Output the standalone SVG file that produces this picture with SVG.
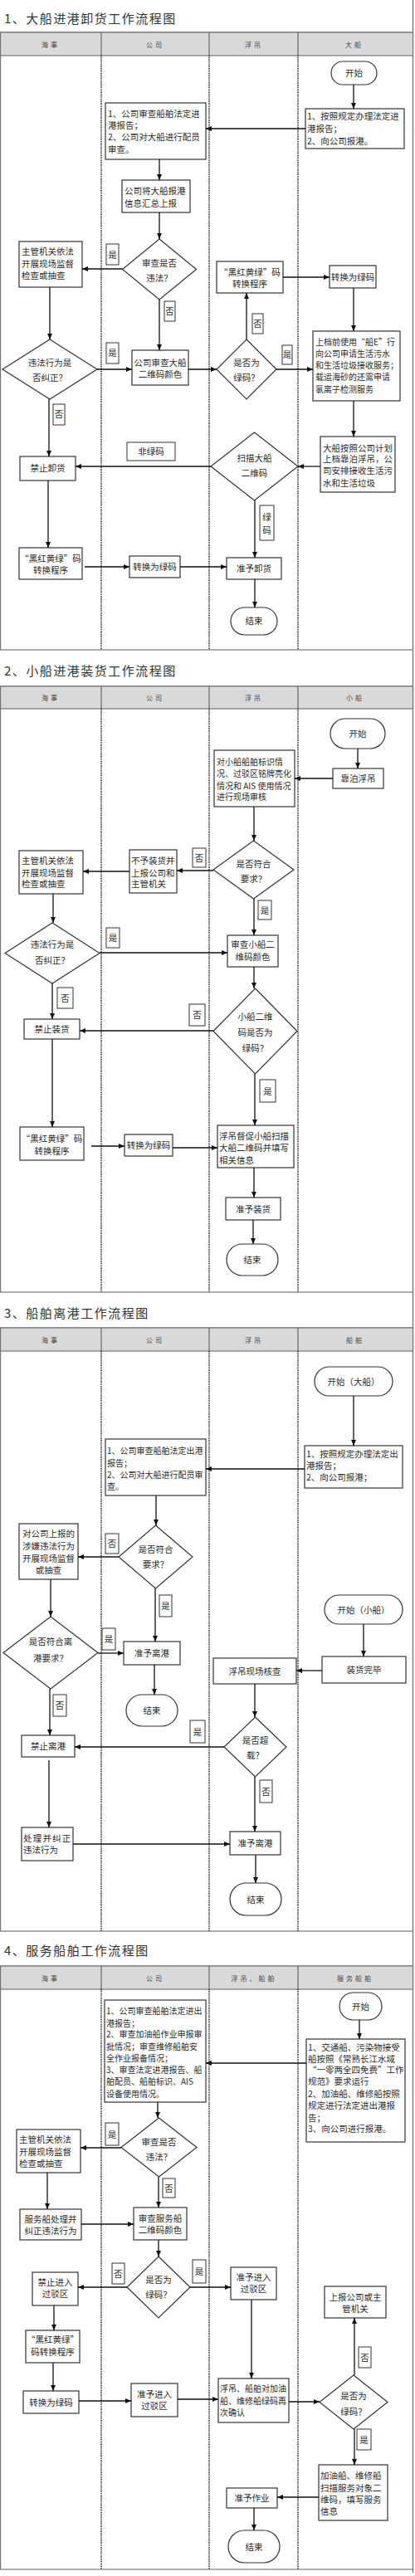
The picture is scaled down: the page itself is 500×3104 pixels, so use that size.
<svg xmlns="http://www.w3.org/2000/svg" width="500" height="3104" viewBox="0 0 500 3104">
<style>
text{font-family:"Noto Sans CJK SC","Noto Sans CJK JP",sans-serif;fill:#2a2a2a;font-size:10.5px}
.m{text-anchor:middle}
.s10{font-size:10px}
.ttl{font-size:15px;letter-spacing:1.5px;fill:#333}
.hd{font-size:8px;letter-spacing:3px;fill:#444;text-anchor:middle}
.hdr{fill:#d9d9d9;stroke:#777;stroke-width:1.2}
.frame{fill:none;stroke:#777;stroke-width:1.2}
.dot{stroke:#222;stroke-width:1.5;stroke-dasharray:1.2 0.9;fill:none}
.sep{stroke:#666;stroke-width:1.2}
.b{fill:#fff;stroke:#333;stroke-width:1.2}
.l{fill:#fff;stroke:#333;stroke-width:1}
.c{stroke:#111;stroke-width:1.3;fill:none;marker-end:url(#a)}
</style>
<defs>
<marker id="a" markerUnits="userSpaceOnUse" markerWidth="7" markerHeight="6" refX="7" refY="3" orient="auto"><path d="M0,0L7,3L0,6z" fill="#111"/></marker>
</defs>
<rect width="500" height="3104" fill="#fff"/>
<line x1="497.5" y1="0" x2="497.5" y2="3100" class="sep"/>

<!-- ========== Section 1 ========== -->
<g id="sec1-frame">
<text x="5" y="28" class="ttl">1、大船进港卸货工作流程图</text>
<rect x="0.6" y="39" width="496.9" height="744" class="frame"/>
<rect x="0.6" y="39" width="496.9" height="28" class="hdr"/>
<line x1="122" y1="39" x2="122" y2="67" class="sep"/><line x1="252" y1="39" x2="252" y2="67" class="sep"/><line x1="359" y1="39" x2="359" y2="67" class="sep"/>
<text x="61" y="57" class="hd">海事</text><text x="187" y="57" class="hd">公司</text><text x="306" y="57" class="hd">浮吊</text><text x="427" y="57" class="hd">大船</text>
<line x1="122" y1="67" x2="122" y2="783" class="dot"/><line x1="252" y1="67" x2="252" y2="783" class="dot"/><line x1="359" y1="67" x2="359" y2="783" class="dot"/>
</g>
<g id="n1-start"><rect x="399" y="74" width="55" height="28" rx="14" class="b"/><text x="426.5" y="92" class="m">开始</text></g>
<g id="n1-report"><rect x="368" y="131" width="119" height="48" class="b"/><text x="370" y="144"><tspan x="370" y="144">1、按照规定办理法定进</tspan><tspan x="370" y="159">港报告；</tspan><tspan x="370" y="174">2、向公司报港。</tspan></text></g>
<g id="n1-company"><rect x="127" y="124" width="121" height="68" class="b"/><text><tspan x="130" y="141">1、公司审查船舶法定进</tspan><tspan x="130" y="155">港报告；</tspan><tspan x="130" y="169">2、公司对大船进行配员</tspan><tspan x="130" y="184">审查。</tspan></text></g>
<g id="n1-summary"><rect x="147" y="217" width="82" height="39" class="b"/><text><tspan x="150" y="234">公司将大船报港</tspan><tspan x="150" y="249">信息汇总上报</tspan></text></g>
<g id="n1-d1"><polygon points="192,288 236.5,324.5 192,361 147.5,324.5" class="b"/><text class="m"><tspan x="192" y="321">审查是否</tspan><tspan x="192" y="339">违法？</tspan></text></g>
<g id="n1-check"><rect x="23" y="291" width="76" height="55" class="b"/><text><tspan x="26" y="307">主管机关依法</tspan><tspan x="26" y="322">开展现场监督</tspan><tspan x="26" y="336">检查或抽查</tspan></text></g>
<g id="n1-d2"><polygon points="60,409 117,445 60,481 3,445" class="b"/><text class="m"><tspan x="60" y="441">违法行为是</tspan><tspan x="60" y="459">否纠正？</tspan></text></g>
<g id="n1-code"><rect x="159" y="422" width="68" height="42" class="b"/><text class="m"><tspan x="193" y="441">公司审查大船</tspan><tspan x="193" y="455">二维码颜色</tspan></text></g>
<g id="n1-d3"><polygon points="297,409 333,445 297,481 261,445" class="b"/><text class="m"><tspan x="297" y="441">是否为</tspan><tspan x="297" y="459">绿码？</tspan></text></g>
<g id="n1-bryg"><rect x="261" y="315" width="80" height="38" class="b"/><text class="m"><tspan x="301" y="332">“黑红黄绿”码</tspan><tspan x="301" y="346">转换程序</tspan></text></g>
<g id="n1-green"><rect x="397" y="320" width="56" height="27" class="b"/><text x="425" y="338" class="m">转换为绿码</text></g>
<g id="n1-apply"><rect x="377" y="399" width="105" height="84" class="b"/><text class="s10"><tspan x="380" y="416">上档前使用“船E”行</tspan><tspan x="380" y="430">向公司申请生活污水</tspan><tspan x="380" y="444">和生活垃圾接收服务；</tspan><tspan x="380" y="458">载运海砂的还需申请</tspan><tspan x="380" y="473">氯离子检测服务</tspan></text></g>
<g id="n1-berth"><rect x="386" y="526" width="90" height="67" class="b"/><text><tspan x="389" y="544">大船按照公司计划</tspan><tspan x="389" y="557">上档靠泊浮吊，公</tspan><tspan x="389" y="571">司安排接收生活污</tspan><tspan x="389" y="586">水和生活垃圾</tspan></text></g>
<g id="n1-d4"><polygon points="306.5,521 359,562 306.5,603 254,562" class="b"/><text class="m"><tspan x="306.5" y="556">扫描大船</tspan><tspan x="306.5" y="574">二维码</tspan></text></g>
<g id="n1-ban"><rect x="24" y="550" width="67" height="29" class="b"/><text x="57.5" y="568" class="m">禁止卸货</text></g>
<g id="n1-ok"><rect x="273" y="672" width="66" height="26" class="b"/><text x="306" y="689" class="m">准予卸货</text></g>
<g id="n1-bryg2"><rect x="23" y="660" width="76" height="38" class="b"/><text class="m"><tspan x="61" y="677">“黑红黄绿”码</tspan><tspan x="61" y="691">转换程序</tspan></text></g>
<g id="n1-green2"><rect x="156" y="670" width="61" height="26" class="b"/><text x="186.5" y="687" class="m">转换为绿码</text></g>
<g id="n1-end"><rect x="278" y="732" width="56" height="33" rx="16.5" class="b"/><text x="306" y="752" class="m">结束</text></g>
<g id="n1-labels">
<rect x="128" y="294" width="15" height="25" class="l"/><text x="135.5" y="310.5" class="m">是</text>
<rect x="198" y="363" width="13" height="24" class="l"/><text x="204.5" y="379" class="m">否</text>
<rect x="128" y="413" width="15" height="25" class="l"/><text x="135.5" y="429" class="m">是</text>
<rect x="64" y="487" width="14" height="25" class="l"/><text x="71" y="503" class="m">否</text>
<rect x="340" y="416" width="12" height="23" class="l"/><text x="346" y="431" class="m">是</text>
<rect x="304" y="378" width="13" height="24" class="l"/><text x="310.5" y="394" class="m">否</text>
<rect x="153" y="533" width="58" height="22" class="l"/><text x="182" y="548" class="m">非绿码</text>
<rect x="313" y="609" width="17" height="42" class="l"/><text class="m"><tspan x="321.5" y="627">绿</tspan><tspan x="321.5" y="643">码</tspan></text>
</g>
<g id="conn1">
<line x1="426" y1="102" x2="426" y2="131" class="c"/>
<line x1="368" y1="155" x2="248" y2="155" class="c"/>
<line x1="192" y1="192" x2="192" y2="217" class="c"/>
<line x1="192" y1="256" x2="192" y2="288" class="c"/>
<line x1="147.5" y1="324" x2="99" y2="324" class="c"/>
<line x1="192" y1="361" x2="192" y2="422" class="c"/>
<line x1="60" y1="346" x2="60" y2="409" class="c"/>
<line x1="117" y1="445" x2="159" y2="445" class="c"/>
<line x1="227" y1="445" x2="261" y2="445" class="c"/>
<line x1="333" y1="445" x2="377" y2="445" class="c"/>
<line x1="297" y1="409" x2="297" y2="353" class="c"/>
<line x1="341" y1="334" x2="397" y2="334" class="c"/>
<line x1="426" y1="347" x2="426" y2="399" class="c"/>
<line x1="426" y1="483" x2="426" y2="526" class="c"/>
<line x1="386" y1="562" x2="359" y2="562" class="c"/>
<line x1="254" y1="562" x2="91" y2="562" class="c"/>
<line x1="59" y1="481" x2="59" y2="550" class="c"/>
<line x1="307" y1="603" x2="307" y2="672" class="c"/>
<line x1="58" y1="579" x2="58" y2="660" class="c"/>
<line x1="102" y1="683" x2="156" y2="683" class="c"/>
<line x1="217" y1="683" x2="273" y2="683" class="c"/>
<line x1="307" y1="698" x2="307" y2="732" class="c"/>
</g>

<!-- ========== Section 2 ========== -->
<g id="sec2-frame">
<text x="5" y="814" class="ttl">2、小船进港装货工作流程图</text>
<rect x="0.6" y="827" width="496.9" height="730" class="frame"/>
<rect x="0.6" y="827" width="496.9" height="27" class="hdr"/>
<line x1="122" y1="827" x2="122" y2="854" class="sep"/><line x1="252" y1="827" x2="252" y2="854" class="sep"/><line x1="359" y1="827" x2="359" y2="854" class="sep"/>
<text x="61" y="844" class="hd">海事</text><text x="187" y="844" class="hd">公司</text><text x="306" y="844" class="hd">浮吊</text><text x="428" y="844" class="hd">小船</text>
<line x1="122" y1="854" x2="122" y2="1557" class="dot"/><line x1="252" y1="854" x2="252" y2="1557" class="dot"/><line x1="359" y1="854" x2="359" y2="1557" class="dot"/>
</g>
<g id="n2-start"><rect x="398" y="866" width="66" height="36" rx="18" class="b"/><text x="431" y="888" class="m">开始</text></g>
<g id="n2-berth"><rect x="401" y="926" width="61" height="24" class="b"/><text x="431.5" y="942" class="m">靠泊浮吊</text></g>
<g id="n2-audit"><rect x="258" y="904" width="97" height="68" class="b"/><text class="s10"><tspan x="261" y="922">对小船船舶标识情</tspan><tspan x="261" y="936">况、过驳区铭牌亮化</tspan><tspan x="261" y="951">情况和 AIS 使用情况</tspan><tspan x="261" y="964">进行现场审核</tspan></text></g>
<g id="n2-d1"><polygon points="305.5,1013 354,1048 305.5,1083 257,1048" class="b"/><text class="m"><tspan x="305.5" y="1045">是否符合</tspan><tspan x="305.5" y="1063">要求？</tspan></text></g>
<g id="n2-refuse"><rect x="156" y="1024" width="57" height="52" class="b"/><text><tspan x="158" y="1041">不予装货并</tspan><tspan x="158" y="1056">上报公司和</tspan><tspan x="158" y="1069">主管机关</tspan></text></g>
<g id="n2-check"><rect x="23" y="1025" width="77" height="52" class="b"/><text><tspan x="26" y="1041">主管机关依法</tspan><tspan x="26" y="1056">开展现场监督</tspan><tspan x="26" y="1069">检查或抽查</tspan></text></g>
<g id="n2-d2"><polygon points="63,1112 120,1148.5 63,1185 6,1148.5" class="b"/><text class="m"><tspan x="63" y="1142">违法行为是</tspan><tspan x="63" y="1161">否纠正？</tspan></text></g>
<g id="n2-code"><rect x="274" y="1127" width="61" height="38" class="b"/><text class="m"><tspan x="304.5" y="1142">审查小船二</tspan><tspan x="304.5" y="1157">维码颜色</tspan></text></g>
<g id="n2-d3"><polygon points="307.5,1191 358,1242.5 307.5,1294 257,1242.5" class="b"/><text class="m"><tspan x="307.5" y="1229">小船二维</tspan><tspan x="307.5" y="1248">码是否为</tspan><tspan x="307.5" y="1267">绿码？</tspan></text></g>
<g id="n2-ban"><rect x="29" y="1228" width="67" height="24" class="b"/><text x="62.5" y="1244" class="m">禁止装货</text></g>
<g id="n2-bryg"><rect x="24" y="1358" width="77" height="40" class="b"/><text class="m"><tspan x="62.5" y="1376">“黑红黄绿”码</tspan><tspan x="62.5" y="1391">转换程序</tspan></text></g>
<g id="n2-green"><rect x="150" y="1367" width="58" height="26" class="b"/><text x="179" y="1384" class="m">转换为绿码</text></g>
<g id="n2-urge"><rect x="262" y="1356" width="92" height="51" class="b"/><text><tspan x="264" y="1373">浮吊督促小船扫描</tspan><tspan x="264" y="1387">大船二维码并填写</tspan><tspan x="264" y="1402">相关信息</tspan></text></g>
<g id="n2-ok"><rect x="272" y="1443" width="66" height="27" class="b"/><text x="305" y="1460.5" class="m">准予装货</text></g>
<g id="n2-end"><rect x="273" y="1499" width="62" height="38" rx="19" class="b"/><text x="304" y="1522" class="m">结束</text></g>
<g id="n2-labels">
<rect x="232" y="1022" width="16" height="23" class="l"/><text x="240" y="1037.5" class="m">否</text>
<rect x="311" y="1085" width="16" height="23" class="l"/><text x="319" y="1100.5" class="m">是</text>
<rect x="128" y="1118" width="16" height="24" class="l"/><text x="136" y="1134" class="m">是</text>
<rect x="228" y="1210" width="19" height="26" class="l"/><text x="237.5" y="1227" class="m">否</text>
<rect x="69" y="1190" width="19" height="25" class="l"/><text x="78.5" y="1206.5" class="m">否</text>
<rect x="313" y="1301" width="19" height="27" class="l"/><text x="322.5" y="1318.5" class="m">是</text>
</g>
<g id="conn2">
<line x1="431" y1="902" x2="431" y2="926" class="c"/>
<line x1="401" y1="938" x2="355" y2="938" class="c"/>
<line x1="306" y1="972" x2="306" y2="1013" class="c"/>
<line x1="257" y1="1049" x2="213" y2="1049" class="c"/>
<line x1="156" y1="1050" x2="100" y2="1050" class="c"/>
<line x1="64" y1="1077" x2="64" y2="1112" class="c"/>
<line x1="120" y1="1148" x2="274" y2="1148" class="c"/>
<line x1="306" y1="1083" x2="306" y2="1127" class="c"/>
<line x1="306" y1="1165" x2="306" y2="1191" class="c"/>
<line x1="257" y1="1242" x2="96" y2="1242" class="c"/>
<line x1="63" y1="1185" x2="63" y2="1228" class="c"/>
<line x1="63" y1="1252" x2="63" y2="1358" class="c"/>
<line x1="110" y1="1381" x2="150" y2="1381" class="c"/>
<line x1="208" y1="1383" x2="262" y2="1383" class="c"/>
<line x1="307" y1="1294" x2="307" y2="1356" class="c"/>
<line x1="306" y1="1407" x2="306" y2="1443" class="c"/>
<line x1="305" y1="1470" x2="305" y2="1499" class="c"/>
</g>

<!-- ========== Section 3 ========== -->
<g id="sec3-frame">
<text x="5" y="1588" class="ttl">3、船舶离港工作流程图</text>
<rect x="0.6" y="1600" width="496.9" height="727" class="frame"/>
<rect x="0.6" y="1600" width="496.9" height="28" class="hdr"/>
<line x1="122" y1="1600" x2="122" y2="1628" class="sep"/><line x1="252" y1="1600" x2="252" y2="1628" class="sep"/><line x1="359" y1="1600" x2="359" y2="1628" class="sep"/>
<text x="61" y="1618" class="hd">海事</text><text x="187" y="1618" class="hd">公司</text><text x="306" y="1618" class="hd">浮吊</text><text x="428" y="1618" class="hd">船舶</text>
<line x1="122" y1="1628" x2="122" y2="2327" class="dot"/><line x1="252" y1="1628" x2="252" y2="2327" class="dot"/><line x1="359" y1="1628" x2="359" y2="2327" class="dot"/>
</g>
<g id="n3-start-big"><rect x="379" y="1647" width="94" height="35" rx="17.5" class="b"/><text x="426" y="1668.5" class="m">开始（大船）</text></g>
<g id="n3-report"><rect x="367" y="1742" width="118" height="51" class="b"/><text><tspan x="369" y="1756">1、按照规定办理法定出</tspan><tspan x="369" y="1770">港报告；</tspan><tspan x="369" y="1784">2、向公司报港；</tspan></text></g>
<g id="n3-company"><rect x="127" y="1734" width="121" height="68" class="b"/><text class="s10"><tspan x="129" y="1752">1、公司审查船舶法定出港</tspan><tspan x="129" y="1767">报告；</tspan><tspan x="129" y="1781">2、公司对大船进行配员审</tspan><tspan x="129" y="1795">查。</tspan></text></g>
<g id="n3-d1"><polygon points="187.5,1838 232,1876 187.5,1914 143,1876" class="b"/><text class="m"><tspan x="187.5" y="1871">是否符合</tspan><tspan x="187.5" y="1889">要求？</tspan></text></g>
<g id="n3-check"><rect x="23" y="1836" width="71" height="67" class="b"/><text class="m"><tspan x="58.5" y="1852">对公司上报的</tspan><tspan x="58.5" y="1867">涉嫌违法行为</tspan><tspan x="58.5" y="1882">开展现场监督</tspan><tspan x="58.5" y="1896">或抽查</tspan></text></g>
<g id="n3-ok1"><rect x="149" y="1978" width="68" height="28" class="b"/><text x="183" y="1996" class="m">准予离港</text></g>
<g id="n3-end1"><rect x="152" y="2042" width="62" height="38" rx="19" class="b"/><text x="183" y="2065" class="m">结束</text></g>
<g id="n3-d2"><polygon points="61,1948 118,1991.5 61,2035 4,1991.5" class="b"/><text class="m"><tspan x="61" y="1982">是否符合离</tspan><tspan x="61" y="2002">港要求？</tspan></text></g>
<g id="n3-start-small"><rect x="391" y="1922" width="94" height="35" rx="17.5" class="b"/><text x="438" y="1943.5" class="m">开始（小船）</text></g>
<g id="n3-loaded"><rect x="388" y="1996" width="101" height="32" class="b"/><text x="438.5" y="2016" class="m">装货完毕</text></g>
<g id="n3-inspect"><rect x="257" y="1998" width="100" height="31" class="b"/><text x="307" y="2017.5" class="m">浮吊现场核查</text></g>
<g id="n3-d3"><polygon points="307.5,2069 345,2105 307.5,2141 270,2105" class="b"/><text class="m"><tspan x="307.5" y="2101">是否超</tspan><tspan x="307.5" y="2119">载？</tspan></text></g>
<g id="n3-ban"><rect x="26" y="2091" width="64" height="26" class="b"/><text x="58" y="2108" class="m">禁止离港</text></g>
<g id="n3-fix"><rect x="26" y="2202" width="62" height="40" class="b"/><text><tspan x="28" y="2219" letter-spacing="1.2">处理并纠正</tspan><tspan x="28" y="2233">违法行为</tspan></text></g>
<g id="n3-ok2"><rect x="277" y="2207" width="61" height="28" class="b"/><text x="307.5" y="2225" class="m">准予离港</text></g>
<g id="n3-end2"><rect x="277" y="2269" width="62" height="39" rx="19.5" class="b"/><text x="308" y="2292.5" class="m">结束</text></g>
<g id="n3-labels">
<rect x="127" y="1848" width="16" height="24" class="l"/><text x="135" y="1864" class="m">否</text>
<rect x="192" y="1922" width="15" height="26" class="l"/><text x="199.5" y="1939" class="m">是</text>
<rect x="123" y="1962" width="16" height="26" class="l"/><text x="131" y="1979" class="m">是</text>
<rect x="64" y="2042" width="16" height="26" class="l"/><text x="72" y="2059" class="m">否</text>
<rect x="229" y="2073" width="18" height="27" class="l"/><text x="238" y="2090.5" class="m">是</text>
<rect x="313" y="2145" width="15" height="27" class="l"/><text x="320.5" y="2162.5" class="m">否</text>
</g>
<g id="conn3">
<line x1="426" y1="1682" x2="426" y2="1742" class="c"/>
<line x1="367" y1="1770" x2="248" y2="1770" class="c"/>
<line x1="188" y1="1802" x2="188" y2="1838" class="c"/>
<line x1="143" y1="1876" x2="94" y2="1876" class="c"/>
<line x1="187" y1="1914" x2="187" y2="1978" class="c"/>
<line x1="186" y1="2006" x2="186" y2="2042" class="c"/>
<line x1="61" y1="1903" x2="61" y2="1948" class="c"/>
<line x1="118" y1="1992" x2="149" y2="1992" class="c"/>
<line x1="438" y1="1957" x2="438" y2="1996" class="c"/>
<line x1="388" y1="2013" x2="357" y2="2013" class="c"/>
<line x1="307" y1="2029" x2="307" y2="2069" class="c"/>
<line x1="270" y1="2105" x2="90" y2="2105" class="c"/>
<line x1="60" y1="2035" x2="60" y2="2091" class="c"/>
<line x1="59" y1="2121" x2="59" y2="2202" class="c"/>
<line x1="88" y1="2222" x2="277" y2="2222" class="c"/>
<line x1="307" y1="2141" x2="307" y2="2207" class="c"/>
<line x1="308" y1="2235" x2="308" y2="2269" class="c"/>
</g>

<!-- ========== Section 4 ========== -->
<g id="sec4-frame">
<text x="5" y="2356" class="ttl">4、服务船舶工作流程图</text>
<rect x="0.6" y="2369" width="496.9" height="727" class="frame"/>
<rect x="0.6" y="2369" width="496.9" height="28" class="hdr"/>
<line x1="122" y1="2369" x2="122" y2="2397" class="sep"/><line x1="252" y1="2369" x2="252" y2="2397" class="sep"/><line x1="359" y1="2369" x2="359" y2="2397" class="sep"/>
<text x="61" y="2387" class="hd">海事</text><text x="187" y="2387" class="hd">公司</text><text x="306" y="2387" class="hd">浮吊、船舶</text><text x="428" y="2387" class="hd">服务船舶</text>
<line x1="122" y1="2397" x2="122" y2="3096" class="dot"/><line x1="252" y1="2397" x2="252" y2="3096" class="dot"/><line x1="359" y1="2397" x2="359" y2="3096" class="dot"/>
</g>
<g id="n4-start"><rect x="409" y="2401" width="51" height="33" rx="16.5" class="b"/><text x="434.5" y="2421.5" class="m">开始</text></g>
<g id="n4-report"><rect x="369" y="2457" width="119" height="124" class="b"/><text><tspan x="371" y="2471">1、交通船、污染物接受</tspan><tspan x="371" y="2485">船按照《常熟长江水域</tspan><tspan x="371" y="2498">“一零两全四免费”工作</tspan><tspan x="371" y="2512">规范》要求运行</tspan><tspan x="371" y="2527">2、加油船、维修船按照</tspan><tspan x="371" y="2541">规定进行法定进出港报</tspan><tspan x="371" y="2556">告；</tspan><tspan x="371" y="2569">3、向公司进行报港。</tspan></text></g>
<g id="n4-company"><rect x="126" y="2410" width="122" height="123" class="b"/><text class="s10"><tspan x="128" y="2427">1、公司审查船舶法定进出</tspan><tspan x="128" y="2442">港报告；</tspan><tspan x="128" y="2455">2、审查加油船作业申报审</tspan><tspan x="128" y="2470">批情况；审查维修船舶安</tspan><tspan x="128" y="2484">全作业报备情况；</tspan><tspan x="128" y="2498">3、审查法定进港报告、船</tspan><tspan x="128" y="2512">舶配员、船舶标识、AIS</tspan><tspan x="128" y="2527">设备使用情况。</tspan></text></g>
<g id="n4-d1"><polygon points="191.5,2552 237,2587.5 191.5,2623 146,2587.5" class="b"/><text class="m"><tspan x="191.5" y="2585">审查是否</tspan><tspan x="191.5" y="2603">违法？</tspan></text></g>
<g id="n4-check"><rect x="20" y="2566" width="77" height="52" class="b"/><text><tspan x="23" y="2582">主管机关依法</tspan><tspan x="23" y="2597">开展现场监督</tspan><tspan x="23" y="2611">检查或抽查</tspan></text></g>
<g id="n4-code"><rect x="161" y="2660" width="64" height="39" class="b"/><text class="m"><tspan x="193" y="2677">审查服务船</tspan><tspan x="193" y="2691">二维码颜色</tspan></text></g>
<g id="n4-fix"><rect x="24" y="2662" width="74" height="37" class="b"/><text class="m"><tspan x="61" y="2678">服务船处理并</tspan><tspan x="61" y="2692">纠正违法行为</tspan></text></g>
<g id="n4-d2"><polygon points="191,2719 229,2756 191,2793 153,2756" class="b"/><text class="m"><tspan x="191" y="2751">是否为</tspan><tspan x="191" y="2769">绿码？</tspan></text></g>
<g id="n4-ban"><rect x="39" y="2738" width="55" height="40" class="b"/><text class="m"><tspan x="66.5" y="2754">禁止进入</tspan><tspan x="66.5" y="2768">过驳区</tspan></text></g>
<g id="n4-allow1"><rect x="278" y="2732" width="55" height="39" class="b"/><text class="m"><tspan x="305.5" y="2748">准予进入</tspan><tspan x="305.5" y="2762">过驳区</tspan></text></g>
<g id="n4-report2"><rect x="391" y="2755" width="74" height="38" class="b"/><text class="m"><tspan x="428" y="2772">上报公司或主</tspan><tspan x="428" y="2786">管机关</tspan></text></g>
<g id="n4-bryg"><rect x="31" y="2808" width="65" height="39" class="b"/><text class="m"><tspan x="63.5" y="2823">“黑红黄绿”</tspan><tspan x="63.5" y="2838">码转换程序</tspan></text></g>
<g id="n4-green"><rect x="28" y="2881" width="67" height="27" class="b"/><text x="61.5" y="2898.5" class="m">转换为绿码</text></g>
<g id="n4-allow2"><rect x="158" y="2872" width="56" height="40" class="b"/><text class="m"><tspan x="186" y="2889">准予进入</tspan><tspan x="186" y="2903">过驳区</tspan></text></g>
<g id="n4-confirm"><rect x="263" y="2866" width="85" height="53" class="b"/><text class="s10"><tspan x="265" y="2882">浮吊、船舶对加油</tspan><tspan x="265" y="2897">船、维修船绿码再</tspan><tspan x="265" y="2911">次确认</tspan></text></g>
<g id="n4-d3"><polygon points="426,2862 467,2894.5 426,2927 385,2894.5" class="b"/><text class="m"><tspan x="426" y="2891">是否为</tspan><tspan x="426" y="2910">绿码？</tspan></text></g>
<g id="n4-scan"><rect x="384" y="2970" width="83" height="67" class="b"/><text><tspan x="386" y="2987">加油船、维修船</tspan><tspan x="386" y="3002">扫描服务对象二</tspan><tspan x="386" y="3016">维码，填写服务</tspan><tspan x="386" y="3030">信息</tspan></text></g>
<g id="n4-work"><rect x="273" y="2998" width="61" height="24" class="b"/><text x="303.5" y="3014" class="m">准予作业</text></g>
<g id="n4-end"><rect x="275" y="3049" width="62" height="39" rx="19.5" class="b"/><text x="306" y="3072.5" class="m">结束</text></g>
<g id="n4-labels">
<rect x="127" y="2558" width="16" height="27" class="l"/><text x="135" y="2575.5" class="m">是</text>
<rect x="196" y="2625" width="15" height="23" class="l"/><text x="203.5" y="2640.5" class="m">否</text>
<rect x="135" y="2727" width="15" height="25" class="l"/><text x="142.5" y="2743.5" class="m">否</text>
<rect x="232" y="2723" width="16" height="28" class="l"/><text x="240" y="2741" class="m">是</text>
<rect x="432" y="2828" width="15" height="25" class="l"/><text x="439.5" y="2844.5" class="m">否</text>
<rect x="430" y="2927" width="17" height="25" class="l"/><text x="438.5" y="2943.5" class="m">是</text>
</g>
<g id="conn4">
<line x1="433" y1="2434" x2="433" y2="2457" class="c"/>
<line x1="369" y1="2486" x2="248" y2="2486" class="c"/>
<line x1="190" y1="2533" x2="190" y2="2552" class="c"/>
<line x1="146" y1="2588" x2="97" y2="2588" class="c"/>
<line x1="191" y1="2623" x2="191" y2="2660" class="c"/>
<line x1="57" y1="2618" x2="57" y2="2662" class="c"/>
<line x1="98" y1="2680" x2="161" y2="2680" class="c"/>
<line x1="191" y1="2699" x2="191" y2="2719" class="c"/>
<line x1="153" y1="2756" x2="94" y2="2756" class="c"/>
<line x1="229" y1="2756" x2="278" y2="2756" class="c"/>
<line x1="303" y1="2771" x2="303" y2="2866" class="c"/>
<line x1="65" y1="2778" x2="65" y2="2808" class="c"/>
<line x1="64" y1="2847" x2="64" y2="2881" class="c"/>
<line x1="95" y1="2893" x2="158" y2="2893" class="c"/>
<line x1="214" y1="2891" x2="263" y2="2891" class="c"/>
<line x1="348" y1="2894" x2="385" y2="2894" class="c"/>
<line x1="427" y1="2862" x2="427" y2="2793" class="c"/>
<line x1="427" y1="2927" x2="427" y2="2970" class="c"/>
<line x1="384" y1="3009" x2="334" y2="3009" class="c"/>
<line x1="306" y1="3022" x2="306" y2="3049" class="c"/>
</g>
</svg>
